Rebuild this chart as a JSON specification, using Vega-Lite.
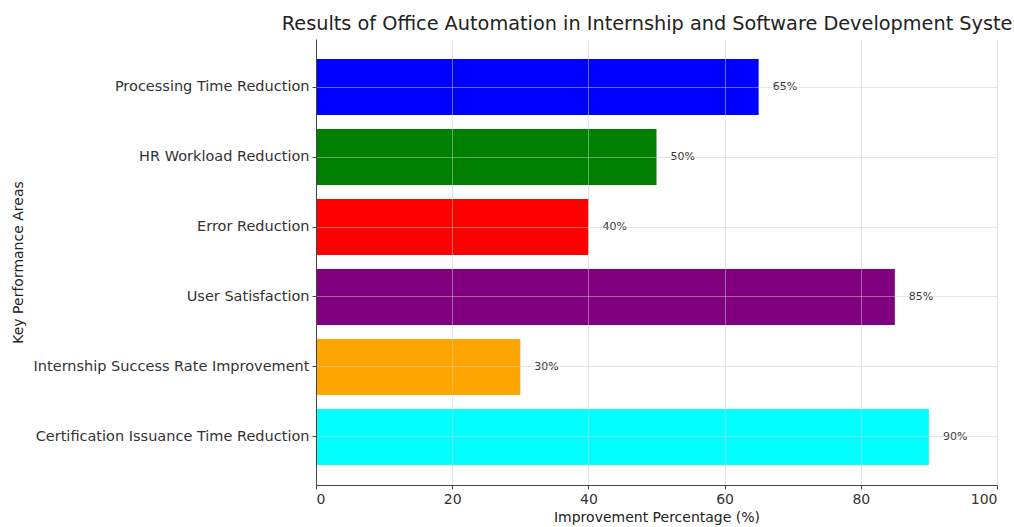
{
  "$schema": "https://vega.github.io/schema/vega-lite/v6.json",
  "autosize": {"type": "none"},
  "width": 681,
  "height": 446,
  "padding": {"left": 316, "top": 39, "right": 17, "bottom": 42},
  "background": "white",
  "title": {
    "text": "Results of Office Automation in Internship and Software Development System",
    "font": "DejaVu Sans",
    "fontSize": 19.3,
    "fontWeight": "normal",
    "color": "#222222",
    "anchor": "middle",
    "offset": 5
  },
  "config": {
    "view": {"stroke": null},
    "axis": {
      "labelFont": "DejaVu Sans",
      "titleFont": "DejaVu Sans",
      "labelColor": "#333333",
      "titleColor": "#222222",
      "titleFontWeight": "normal",
      "domainColor": "#444444",
      "tickColor": "#444444",
      "gridColor": "#cccccc",
      "gridOpacity": 0.5
    }
  },
  "data": {
    "values": [
      {"area": "Processing Time Reduction", "value": 65, "label": "65%", "color": "#0000ff"},
      {"area": "HR Workload Reduction", "value": 50, "label": "50%", "color": "#008000"},
      {"area": "Error Reduction", "value": 40, "label": "40%", "color": "#ff0000"},
      {"area": "User Satisfaction", "value": 85, "label": "85%", "color": "#800080"},
      {"area": "Internship Success Rate Improvement", "value": 30, "label": "30%", "color": "#ffa500"},
      {"area": "Certification Issuance Time Reduction", "value": 90, "label": "90%", "color": "#00ffff"}
    ]
  },
  "encoding": {
    "y": {
      "field": "area",
      "type": "nominal",
      "sort": null,
      "scale": {"paddingInner": 0.2, "paddingOuter": 0.286},
      "axis": {
        "title": "Key Performance Areas",
        "titleFontSize": 14,
        "titleX": -298,
        "titleY": 223,
        "titleAngle": -90,
        "titleAlign": "center",
        "titleBaseline": "middle",
        "labelFontSize": 14.5,
        "labelLimit": 400,
        "labelPadding": 3,
        "tickSize": 4,
        "grid": true,
        "zindex": 1
      }
    }
  },
  "layer": [
    {
      "mark": {"type": "bar"},
      "encoding": {
        "x": {
          "field": "value",
          "type": "quantitative",
          "scale": {"domain": [0, 100], "nice": false},
          "axis": {
            "title": "Improvement Percentage (%)",
            "titleFontSize": 14,
            "titlePadding": 4,
            "labelFontSize": 14,
            "values": [0, 20, 40, 60, 80, 100],
            "tickSize": 4,
            "labelPadding": 3,
            "grid": true,
            "zindex": 1
          }
        },
        "color": {"field": "color", "type": "nominal", "scale": null}
      }
    },
    {
      "mark": {"type": "text", "align": "left", "baseline": "middle", "dx": 14, "font": "DejaVu Sans", "fontSize": 11, "color": "#333333"},
      "encoding": {
        "x": {"field": "value", "type": "quantitative"},
        "text": {"field": "label"}
      }
    }
  ]
}
